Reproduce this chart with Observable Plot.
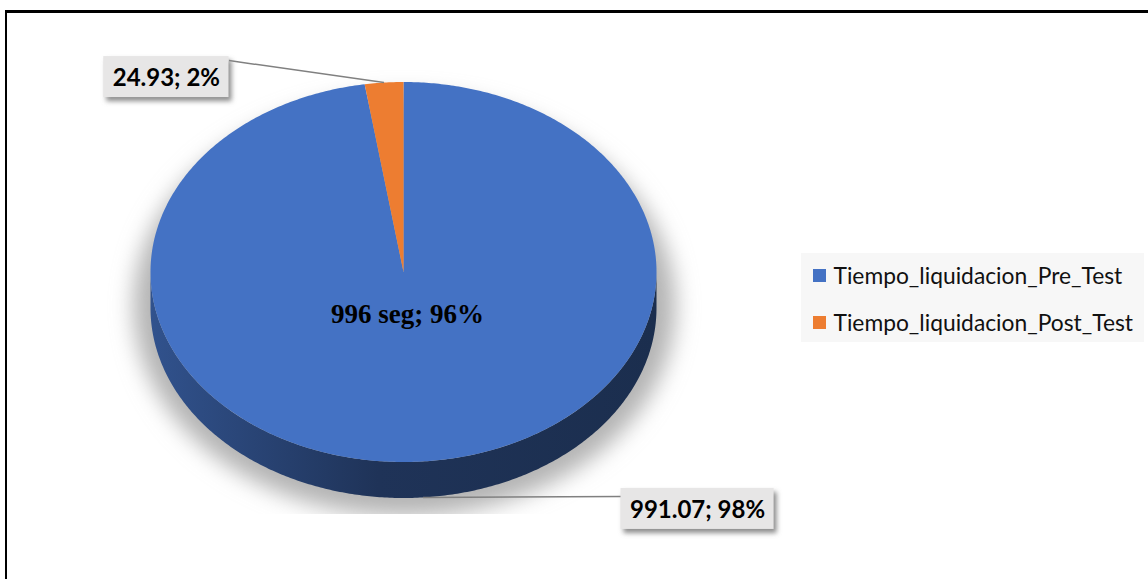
<!DOCTYPE html>
<html><head><meta charset="utf-8">
<script src="https://cdn.jsdelivr.net/npm/d3@7"></script>
<script src="https://cdn.jsdelivr.net/npm/@observablehq/plot@0.6"></script>
<style>
body{margin:0;background:#fff;overflow:hidden}
#wrap{position:relative;width:1148px;height:579px;overflow:hidden}
#border{position:absolute;left:5px;top:10px;width:1300px;height:800px;border-top:3px solid #000;border-left:2px solid #000;pointer-events:none}
</style>
</head><body>
<div id="wrap"><div id="chart"></div><div id="border"></div></div>
<script>
// ---- data ----
const categories = ["Tiempo_liquidacion_Pre_Test", "Tiempo_liquidacion_Post_Test"];
const values = [991.07, 24.93];
const percents = ["98%", "2%"];
const colors = ["#4472c4", "#ed7d31"];
const centerText = "996 seg; 96%";

// ---- layout ----
const W = 1148, H = 579;
const cx = 403, cy = 271.5, rx = 253, ry = 190, depth = 36;
const labelOffset = [[198, -9], [-155, -26]]; // box corner relative to leader anchor
const labelFont = "bold 24px Lato";
const pt = (a, dy = 0) => ({x: cx + rx * Math.sin(a), y: cy - ry * Math.cos(a) + dy});

const rows = categories.map((c, i) => ({category: c, value: values[i], label: `${values[i]}; ${percents[i]}`, color: colors[i]}));
const arcs = d3.pie().sort(null).value(d => d.value)(rows);

// top faces
const slicePts = arcs.flatMap(a => {
  const n = Math.max(2, Math.ceil((a.endAngle - a.startAngle) / 0.01));
  const pts = [{category: a.data.category, x: cx, y: cy}];
  for (let k = 0; k <= n; k++) pts.push({category: a.data.category, ...pt(a.startAngle + (a.endAngle - a.startAngle) * k / n)});
  return pts;
});

// side walls (front half only)
const walls = arcs.map((a, i) => {
  const s = Math.max(a.startAngle, Math.PI / 2), e = Math.min(a.endAngle, 3 * Math.PI / 2);
  if (e <= s) return null;
  const n = Math.max(2, Math.ceil((e - s) / 0.01));
  const pts = [];
  for (let k = 0; k <= n; k++) pts.push(pt(s + (e - s) * k / n));
  for (let k = n; k >= 0; k--) pts.push(pt(s + (e - s) * k / n, depth));
  return {i, pts};
}).filter(Boolean);

// shadow ellipse
const shadowPts = d3.range(0, 361, 2).map(d => {
  const a = d * Math.PI / 180;
  return {x: cx + 1 + (rx + 18) * Math.sin(a), y: cy + 34 - (ry + 20) * Math.cos(a)};
});

// labels
const ctx = document.createElement("canvas").getContext("2d");
ctx.font = labelFont;
const labels = arcs.map((a, i) => {
  const mid = (a.startAngle + a.endAngle) / 2;
  const front = mid > Math.PI / 2 && mid < 3 * Math.PI / 2;
  const anchor = pt(mid, front ? depth : 0);
  const w = ctx.measureText(a.data.label).width + 18, h = 41;
  const right = labelOffset[i][0] > 0;
  const x1 = right ? anchor.x + labelOffset[i][0] : anchor.x + labelOffset[i][0] - w;
  const y1 = anchor.y + labelOffset[i][1];
  return {label: a.data.label, ax: anchor.x, ay: anchor.y, x1, x2: x1 + w, y1, y2: y1 + h,
          lx: right ? x1 : x1 + w, ly: y1 + (right ? 8 : 4)};
});

// legend
const legendX = 813, legendY = 275, legendStep = 47;
const legend = categories.map((c, i) => ({category: c, x: legendX, y: legendY + i * legendStep}));

const marks = [
  Plot.line(shadowPts, {x: "x", y: "y", fill: "#b4b4b4", stroke: "#b4b4b4", strokeWidth: 1}),
  ...walls.map(w => Plot.line(w.pts, {x: "x", y: "y", fill: colors[w.i], stroke: colors[w.i], strokeWidth: 1})),
  Plot.line(slicePts, {x: "x", y: "y", z: "category", fill: "category", stroke: "none"}),
  Plot.text([centerText], {x: () => cx + 4, y: () => cy + 42, text: d => d, fontFamily: "Liberation Serif", fontWeight: "bold", fontSize: 27, fill: "#000"}),
  Plot.link(labels, {x1: "ax", y1: "ay", x2: "lx", y2: "ly", stroke: "#808080", strokeWidth: 1.5}),
  Plot.rect(labels, {x1: d => d.x1 + 3, x2: d => d.x2 + 3, y1: d => d.y1 + 4, y2: d => d.y2 + 4, fill: "#8c8c8c"}),
  Plot.rect(labels, {x1: "x1", x2: "x2", y1: "y1", y2: "y2", fill: "#e7e6e6"}),
  Plot.text(labels, {x: d => (d.x1 + d.x2) / 2, y: d => (d.y1 + d.y2) / 2 + 1, text: "label", fontFamily: "Lato", fontWeight: "bold", fontSize: 24, fill: "#000"}),
  Plot.rect([0], {x1: () => legendX - 12, x2: () => legendX + 331, y1: () => legendY - 22, y2: () => legendY + legendStep + 20, fill: "#f7f7f7"}),
  Plot.rect(legend, {x1: "x", x2: d => d.x + 13, y1: d => d.y - 6, y2: d => d.y + 7, fill: "category"}),
  Plot.text(legend, {x: d => d.x + 20, y: d => d.y + 1, text: "category", textAnchor: "start", fontFamily: "Lato", fontSize: 22.8, fill: "#111"})
];

const svg = Plot.plot({
  width: W, height: H, margin: 0,
  x: {type: "identity", axis: null},
  y: {type: "identity", axis: null},
  color: {domain: categories, range: colors},
  style: {background: "#fff", overflow: "visible"},
  marks
});

document.getElementById("chart").append(svg);
try {
  const s = d3.select(svg);
  const defs = s.insert("defs", ":first-child");
  const f = defs.append("filter").attr("id", "pieblur").attr("x", "-30%").attr("y", "-30%").attr("width", "160%").attr("height", "160%");
  f.append("feGaussianBlur").attr("stdDeviation", 11);
  const f2 = defs.append("filter").attr("id", "boxblur").attr("x", "-30%").attr("y", "-50%").attr("width", "160%").attr("height", "200%");
  f2.append("feGaussianBlur").attr("stdDeviation", 2.5);
  defs.append("clipPath").attr("id", "shadowclip").append("rect").attr("x", 0).attr("y", 0).attr("width", W).attr("height", cy + ry + depth + 16);
  const lines = s.selectAll('g[aria-label="line"]').nodes();
  // first line = shadow, then walls, then slices
  const shadowG = d3.select(lines[0]);
  shadowG.attr("stroke", "none").selectAll("path").attr("stroke", "none").attr("filter", "url(#pieblur)");
  shadowG.attr("clip-path", "url(#shadowclip)");
  walls.forEach((w, k) => {
    const c = colors[w.i];
    const g = defs.append("linearGradient").attr("id", `wallgrad${w.i}`).attr("x1", 0).attr("x2", 1).attr("y1", 0).attr("y2", 0);
    g.append("stop").attr("offset", "0%").attr("stop-color", d3.interpolateRgb(c, "#000")(0.28));
    g.append("stop").attr("offset", "45%").attr("stop-color", d3.interpolateRgb(c, "#000")(0.55));
    g.append("stop").attr("offset", "100%").attr("stop-color", d3.interpolateRgb(c, "#000")(0.6));
    d3.select(lines[1 + k]).attr("fill", `url(#wallgrad${w.i})`).attr("stroke", "none")
      .selectAll("path").attr("fill", `url(#wallgrad${w.i})`).attr("stroke", "none");
  });
  const rects = s.selectAll('g[aria-label="rect"]').nodes();
  d3.select(rects[0]).attr("filter", "url(#boxblur)");
} catch (e) { console.error(e); }
</script>
</body></html>
